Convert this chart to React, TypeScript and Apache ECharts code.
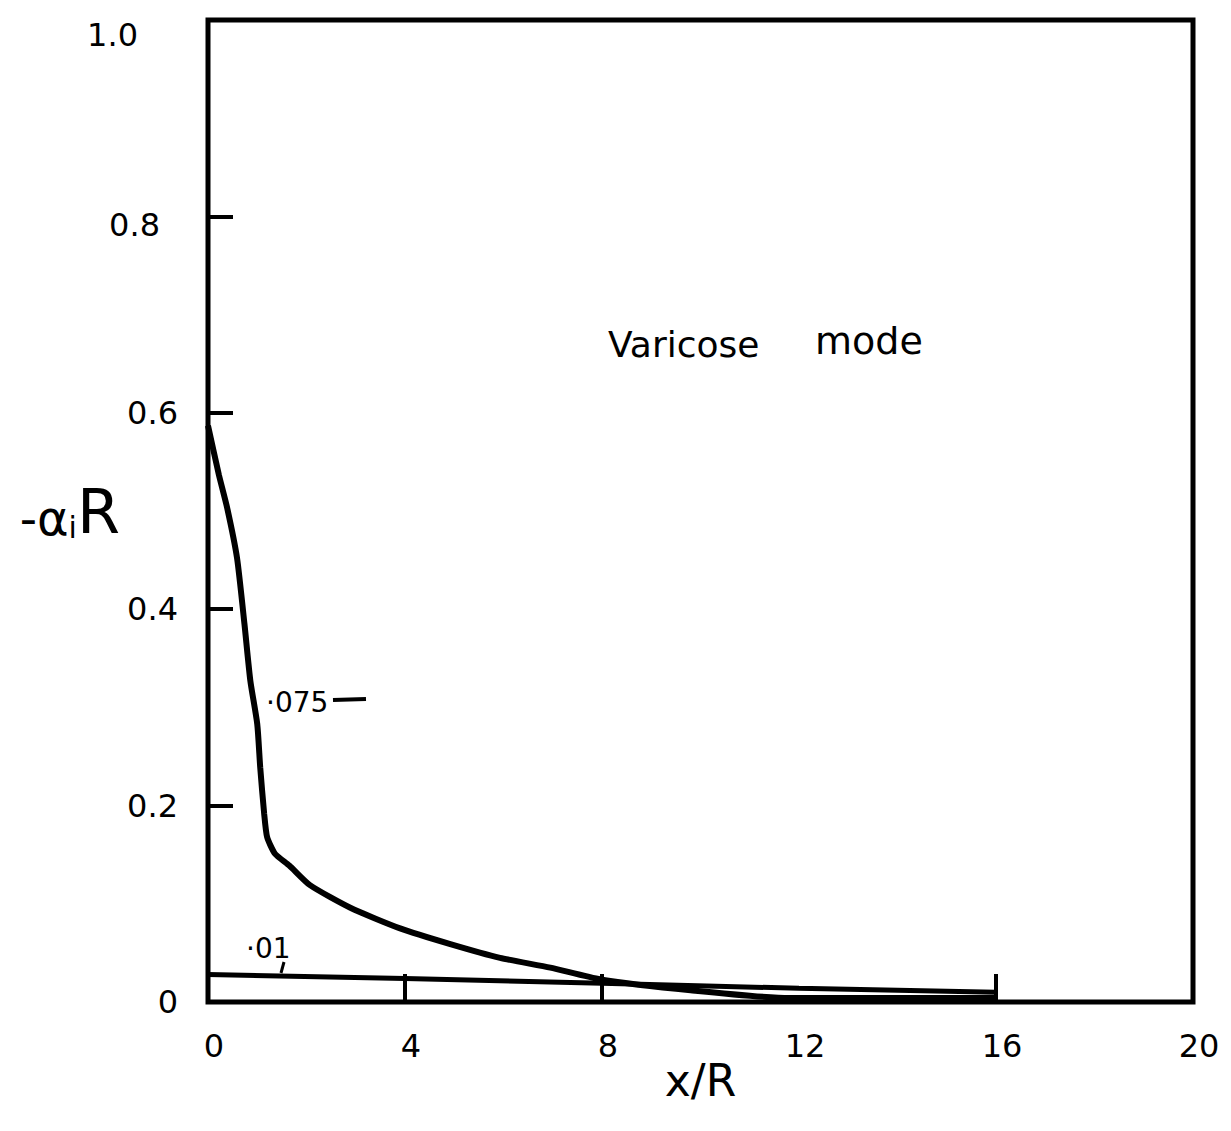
import React, { useEffect, useRef } from "react";
import * as echarts from "echarts";

// x/R positions and -alpha_i R values for the ".075" curve
const x075 = [0, 0.22, 0.39, 0.59, 0.74, 0.86, 1.0, 1.06, 1.14, 1.2, 1.36, 1.65, 2.07, 2.89, 3.9, 4.92, 5.93, 6.95, 7.97, 9.8, 11.8, 16];
const y075 = [0.587, 0.537, 0.503, 0.452, 0.385, 0.327, 0.283, 0.239, 0.192, 0.168, 0.151, 0.139, 0.119, 0.096, 0.075, 0.059, 0.045, 0.035, 0.023, 0.012, 0.004, 0.004];

// ".01" curve
const x01 = [0, 4, 8, 12, 16];
const y01 = [0.028, 0.024, 0.019, 0.014, 0.01];

const xTickValues = [4, 8, 16];
const yLabelText: Record<string, string> = { "0": "0", "0.2": "0.2", "0.4": "0.4", "0.6": "0.6", "0.8": "0.8", "1": "1.0" };
const xLabelText = ["0", "4", "8", "12", "16", "20"];

const FONT = "DejaVu Sans";

export default function App() {
  const ref = useRef<HTMLDivElement>(null);
  useEffect(() => {
    if (!ref.current) return;
    const chart = echarts.init(ref.current, undefined, { renderer: "svg" });
    const option: any = {
      animation: false,
      backgroundColor: "#fff",
      grid: {
        left: 208,
        top: 20,
        right: 38,
        bottom: 129,
        show: true,
        borderColor: "#000",
        borderWidth: 5,
      },
      xAxis: {
        type: "value",
        min: 0,
        max: 20,
        interval: 4,
        axisLine: { show: false },
        splitLine: { show: false },
        axisTick: {
          show: true,
          inside: true,
          length: 28,
          customValues: xTickValues,
          lineStyle: { color: "#000", width: 4 },
        },
        axisLabel: {
          margin: 28,
          fontSize: 32,
          fontFamily: FONT,
          color: "#000",
          padding: [0, 0, 0, 12],
          showMinLabel: true,
          showMaxLabel: true,
          formatter: (v: number) => xLabelText[Math.round(v / 4)] ?? String(v),
        },
        name: "x/R",
        nameLocation: "middle",
        nameGap: 56,
        nameMoveOverlap: false,
        nameTextStyle: { fontSize: 44, fontFamily: FONT, color: "#000" },
      },
      yAxis: {
        type: "value",
        min: 0,
        max: 1,
        interval: 0.2,
        axisLine: { show: false },
        splitLine: { show: false },
        axisTick: {
          show: true,
          inside: true,
          length: 25,
          lineStyle: { color: "#000", width: 4 },
        },
        axisLabel: {
          margin: 30,
          fontSize: 32,
          fontFamily: FONT,
          color: "#000",
          showMinLabel: true,
          showMaxLabel: true,
          formatter: (v: number) => {
            const key = String(Math.round(v * 10) / 10);
            const t = yLabelText[key] ?? String(v);
            if (key === "1") return `{top|${t}}`;
            if (key === "0.8") return `{hi|${t}}`;
            return `{n|${t}}`;
          },
          rich: {
            top: { fontSize: 32, fontFamily: FONT, color: "#000", padding: [30, 40, 0, 0] },
            hi: { fontSize: 32, fontFamily: FONT, color: "#000", padding: [18, 18, 0, 0] },
            n: { fontSize: 32, fontFamily: FONT, color: "#000" },
          },
        },
        name: "{a|-α}{b|i}{c|R}",
        nameLocation: "middle",
        nameRotate: 0,
        nameGap: 88,
        nameMoveOverlap: false,
        nameTextStyle: {
          rich: {
            a: { fontSize: 48, fontFamily: FONT, color: "#000", verticalAlign: "bottom" },
            b: { fontSize: 30, fontFamily: FONT, color: "#000", verticalAlign: "bottom" },
            c: { fontSize: 62, fontFamily: FONT, color: "#000", verticalAlign: "bottom" },
          },
        },
      },
      series: [
        {
          name: ".075",
          type: "line",
          data: x075.map((x, i) => [x, y075[i]]),
          showSymbol: false,
          smooth: 0.2,
          lineStyle: { color: "#000", width: 6 },
        },
        {
          name: ".01",
          type: "line",
          data: x01.map((x, i) => [x, y01[i]]),
          showSymbol: false,
          lineStyle: { color: "#000", width: 5 },
        },
      ],
      graphic: [
        {
          type: "text",
          left: 608,
          top: 326,
          style: { text: "Varicose", fontSize: 36, fontFamily: FONT, fill: "#000" },
        },
        {
          type: "text",
          left: 815,
          top: 322,
          style: { text: "mode", fontSize: 38, fontFamily: FONT, fill: "#000" },
        },
        {
          type: "text",
          left: 266,
          top: 688,
          style: { text: "·075", fontSize: 28, fontFamily: FONT, fill: "#000" },
        },
        {
          type: "line",
          shape: { x1: 333, y1: 700, x2: 366, y2: 699 },
          style: { stroke: "#000", lineWidth: 4 },
        },
        {
          type: "text",
          left: 246,
          top: 934,
          style: { text: "·01", fontSize: 28, fontFamily: FONT, fill: "#000" },
        },
        {
          type: "line",
          shape: { x1: 284, y1: 962, x2: 281, y2: 973 },
          style: { stroke: "#000", lineWidth: 3 },
        },
      ],
    };
    chart.setOption(option);
    return () => chart.dispose();
  }, []);
  return (
    <div
      ref={ref}
      style={{ position: "absolute", left: 0, top: 0, width: 1231, height: 1131 }}
    />
  );
}
